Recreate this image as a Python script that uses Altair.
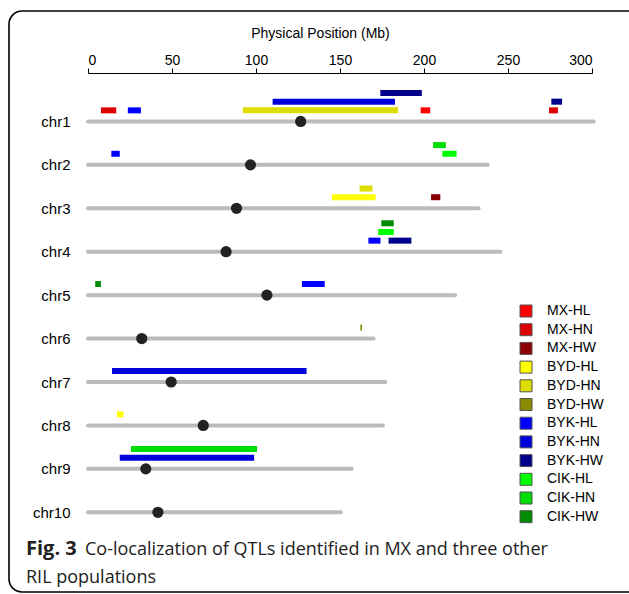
import altair as alt
import pandas as pd

# ---- data ----
chrom_names = ["chr1", "chr2", "chr3", "chr4", "chr5", "chr6", "chr7", "chr8", "chr9", "chr10"]
chrom_length = [301, 238, 232.5, 245.5, 218.5, 170, 177, 175.5, 157, 150.5]
centromere = [126.6, 96.7, 88.4, 82.2, 106.5, 32, 49.5, 68.6, 34.4, 41.6]

groups = ["MX-HL", "MX-HN", "MX-HW", "BYD-HL", "BYD-HN", "BYD-HW",
          "BYK-HL", "BYK-HN", "BYK-HW", "CIK-HL", "CIK-HN", "CIK-HW"]
group_colors = ["#FF0000", "#DD0000", "#8B0000", "#FFFF00", "#DDDD00", "#8B8B00",
                "#0000FF", "#0000DD", "#00008B", "#00FF00", "#00DD00", "#008B00"]

qtl_chr = [1, 1, 1, 1, 1, 1, 1, 1,
           2, 2, 2,
           3, 3, 3,
           4, 4, 4, 4,
           5, 5,
           6,
           7,
           8,
           9, 9]
qtl_start = [7.7, 23.7, 92.2, 198.0, 274.4, 109.9, 275.8, 174.0,
             13.9, 210.9, 205.4,
             145.2, 204.2, 161.7,
             166.9, 178.9, 172.7, 174.6,
             4.3, 127.3,
             162.1,
             14.3,
             17.2,
             18.9, 25.6]
qtl_end = [16.8, 31.5, 184.6, 203.7, 279.7, 182.7, 282.2, 198.7,
           18.9, 219.4, 213.0,
           171.2, 209.7, 169.3,
           174.1, 192.5, 182.0, 182.0,
           7.7, 140.9,
           163.1,
           130.1,
           21.1,
           98.9, 100.6]
qtl_group = ["MX-HN", "BYK-HL", "BYD-HN", "MX-HL", "MX-HN", "BYK-HN", "BYK-HW", "BYK-HW",
             "BYK-HL", "CIK-HL", "CIK-HN",
             "BYD-HL", "MX-HW", "BYD-HN",
             "BYK-HL", "BYK-HW", "CIK-HL", "CIK-HW",
             "CIK-HW", "BYK-HL",
             "BYD-HW",
             "BYK-HN",
             "BYD-HL",
             "BYK-HN", "CIK-HN"]
qtl_lane = [1, 1, 1, 1, 1, 2, 2, 3,
            1, 1, 2,
            1, 1, 2,
            1, 1, 2, 3,
            1, 1,
            1,
            1,
            1,
            1, 2]

chrom_df = pd.DataFrame({
    "chrom": chrom_names,
    "idx": list(range(1, len(chrom_names) + 1)),
    "length": chrom_length,
    "cen": centromere,
})
qtl_df = pd.DataFrame({
    "idx": qtl_chr, "start": qtl_start, "end": qtl_end,
    "group": qtl_group, "lane": qtl_lane,
})

FONT = "Liberation Sans"
W, H = 504, 466

yscale = alt.Scale(domain=[0, 10.5], reverse=True, nice=False, zero=False)
xscale = alt.Scale(domain=[0, 300], nice=False, zero=False)

xaxis = alt.Axis(
    orient="top", values=[0, 50, 100, 150, 200, 250, 300], grid=False,
    domainColor="black", tickColor="black", tickSize=5, labelPadding=1,
    labelFont=FONT, labelFontSize=14, labelColor="black",
    title="Physical Position (Mb)", titleFont=FONT, titleFontSize=14,
    titleFontWeight="normal", titleColor="black",
    titleX=232, titleY=-40, titleAlign="center", titleBaseline="middle",
)
yaxis = alt.Axis(
    values=list(range(1, 11)), labelExpr="'chr' + datum.value",
    domain=False, ticks=False, grid=False, labelPadding=18,
    labelFont=FONT, labelFontSize=15, labelColor="black", title=None,
)

border = alt.Chart(pd.DataFrame({"a": [0]})).mark_rect(
    fillOpacity=0, stroke="black", strokeWidth=1.6, cornerRadius=13
).encode(
    x=alt.value(-79), x2=alt.value(640), y=alt.value(-62), y2=alt.value(519)
)

lines = alt.Chart(chrom_df).transform_calculate(start="0").mark_rule(
    color="#BBBBBB", strokeWidth=4, strokeCap="round"
).encode(
    x=alt.X("start:Q", scale=xscale, axis=xaxis),
    x2="length:Q",
    y=alt.Y("idx:Q", scale=yscale, axis=yaxis),
)

cens = alt.Chart(chrom_df).mark_point(
    filled=True, color="#222222", opacity=1, size=125, shape="circle"
).encode(
    x=alt.X("cen:Q", scale=xscale, axis=xaxis),
    y=alt.Y("idx:Q", scale=yscale, axis=yaxis),
)

bars = alt.Chart(qtl_df).transform_calculate(
    ypos="datum.idx - 0.255 - 0.2 * (datum.lane - 1)"
).mark_bar(size=6).encode(
    x=alt.X("start:Q", scale=xscale, axis=xaxis),
    x2="end:Q",
    y=alt.Y("ypos:Q", scale=yscale, axis=yaxis),
    color=alt.Color(
        "group:N",
        scale=alt.Scale(domain=groups, range=group_colors),
        legend=alt.Legend(
            title=None, orient="none", legendX=431, legendY=231,
            symbolType="square", symbolSize=144, symbolStrokeColor="#555555",
            symbolStrokeWidth=1, symbolOpacity=1,
            labelFont=FONT, labelFontSize=14, labelColor="black",
            labelOffset=14, rowPadding=2.7, padding=0,
        ),
    ),
)

cap_font = "Open Sans"
cap1 = alt.Chart(pd.DataFrame({"t": ["Fig. 3"]})).mark_text(
    align="left", baseline="alphabetic", font=cap_font, fontSize=20,
    fontWeight="bold", color="#222222"
).encode(text="t:N", x=alt.value(-62), y=alt.value(482))
cap2 = alt.Chart(pd.DataFrame({"t": ["Co-localization of QTLs identified in MX and three other"]})).mark_text(
    align="left", baseline="alphabetic", font=cap_font, fontSize=18,
    color="#222222"
).encode(text="t:N", x=alt.value(-3), y=alt.value(482))
cap3 = alt.Chart(pd.DataFrame({"t": ["RIL populations"]})).mark_text(
    align="left", baseline="alphabetic", font=cap_font, fontSize=18,
    color="#222222"
).encode(text="t:N", x=alt.value(-62), y=alt.value(510))

chart = alt.layer(border, lines, cens, bars, cap1, cap2, cap3).properties(
    width=W, height=H,
    autosize=alt.AutoSizeParams(type="none"),
    padding={"left": 88, "top": 73, "right": 37, "bottom": 55},
    background="white",
).configure_view(stroke=None)

chart.save("out.html", embed_options={"renderer": "svg", "actions": False})
